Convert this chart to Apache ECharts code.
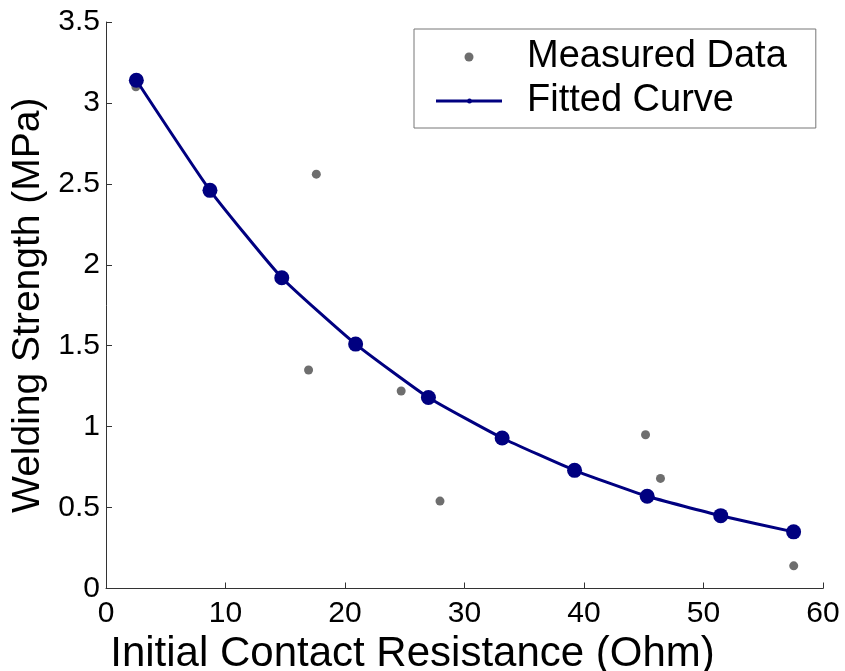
<!DOCTYPE html>
<html>
<head>
<meta charset="utf-8">
<script src="https://cdn.jsdelivr.net/npm/echarts@6/dist/echarts.min.js"></script>
<style>
html, body { margin: 0; padding: 0; background: #fff; }
#main { width: 845px; height: 671px; }
</style>
</head>
<body>
<div id="main"></div>
<script>
// measured points: resistance (Ohm) / strength (MPa)
var measuredX = [2.5, 17.6, 16.95, 24.7, 27.95, 45.15, 46.4, 57.55];
var measuredY = [3.10, 2.56, 1.35, 1.22, 0.54, 0.95, 0.68, 0.14];

// fitted curve points
var fittedX = [2.54, 8.7, 14.71, 20.89, 26.98, 33.15, 39.21, 45.29, 51.44, 57.54];
var fittedY = [3.14, 2.46, 1.92, 1.51, 1.18, 0.93, 0.73, 0.57, 0.45, 0.35];

var xTicks = [0, 10, 20, 30, 40, 50, 60];
var yTicks = [0, 0.5, 1, 1.5, 2, 2.5, 3, 3.5];

function pairs(xs, ys) {
    var out = [];
    for (var i = 0; i < xs.length; i++) {
        out.push([xs[i], ys[i]]);
    }
    return out;
}

var fontName = 'Liberation Sans, Arial, sans-serif';
var axisColor = '#333';
var navy = '#000080';

var chart = echarts.init(document.getElementById('main'));
var option = {
    backgroundColor: '#fff',
    animation: false,
    grid: {
        left: 106,
        right: 22,
        top: 22,
        bottom: 82.5,
        outerBoundsMode: 'none',
        containLabel: false
    },
    legend: {
        orient: 'vertical',
        left: 414,
        top: 29,
        padding: [8, 29, 7, 22],
        itemWidth: 66,
        itemHeight: 9,
        itemGap: 4,
        backgroundColor: '#fff',
        borderColor: '#777',
        borderWidth: 1,
        textStyle: {
            fontFamily: fontName,
            fontSize: 38,
            lineHeight: 40,
            color: '#000',
            padding: [0, 0, 0, 20]
        },
        data: [
            { name: 'Measured Data' },
            // thin line with a tiny dot, like the original legend
            { name: 'Fitted Curve', icon: 'path://M0,3h66v3h-66z M31,4.5a2.5,2.5 0 1,1 5,0a2.5,2.5 0 1,1 -5,0z' }
        ]
    },
    xAxis: {
        type: 'value',
        min: xTicks[0],
        max: xTicks[xTicks.length - 1],
        interval: 10,
        name: 'Initial Contact Resistance (Ohm)',
        nameLocation: 'middle',
        nameGap: 39,
        nameTextStyle: {
            fontFamily: fontName,
            fontSize: 42,
            color: '#000',
            padding: [0, 104, 0, 0]
        },
        axisLine: { lineStyle: { color: axisColor, width: 1 } },
        axisTick: { inside: true, length: 6, lineStyle: { color: axisColor } },
        axisLabel: {
            fontFamily: fontName,
            fontSize: 30,
            color: '#000',
            margin: 10
        },
        splitLine: { show: false }
    },
    yAxis: {
        type: 'value',
        min: yTicks[0],
        max: yTicks[yTicks.length - 1],
        interval: 0.5,
        name: 'Welding Strength (MPa)',
        nameLocation: 'middle',
        nameGap: 56,
        nameTextStyle: {
            fontFamily: fontName,
            fontSize: 39,
            color: '#000'
        },
        axisLine: { show: true, lineStyle: { color: axisColor, width: 1 } },
        axisTick: { show: true, inside: true, length: 6, lineStyle: { color: axisColor } },
        axisLabel: {
            fontFamily: fontName,
            fontSize: 30,
            color: '#000',
            margin: 6
        },
        splitLine: { show: false }
    },
    series: [
        {
            name: 'Measured Data',
            type: 'scatter',
            symbol: 'circle',
            symbolSize: 9,
            itemStyle: { color: '#6e6e6e', opacity: 1 },
            data: pairs(measuredX, measuredY)
        },
        {
            name: 'Fitted Curve',
            type: 'line',
            smooth: 0.15,
            symbol: 'circle',
            symbolSize: 15,
            showAllSymbol: true,
            lineStyle: { color: navy, width: 3 },
            itemStyle: { color: navy },
            data: pairs(fittedX, fittedY)
        }
    ]
};
chart.setOption(option);
</script>
</body>
</html>
